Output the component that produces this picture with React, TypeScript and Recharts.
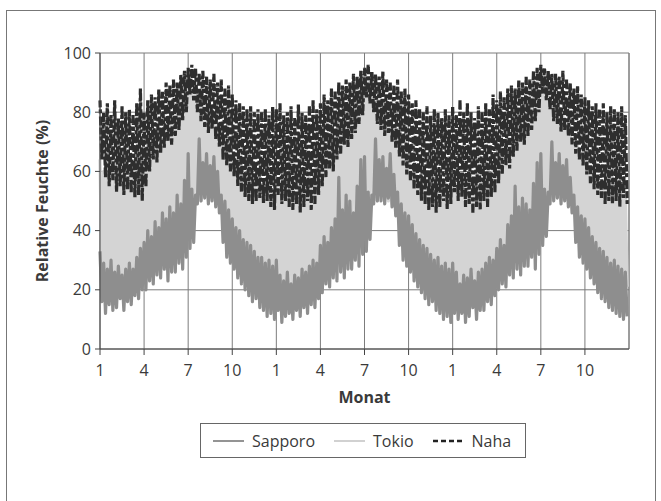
import React from "react";
import {
  LineChart,
  Line,
  XAxis,
  YAxis,
  CartesianGrid,
  Legend,
  ReferenceLine,
} from "recharts";

// Three years of relative humidity, sampled weekly (4 per month, 144 per series).
// Each week holds the upper and lower value of the daily swing.
const MONTH_TICKS = [0, 3, 6, 9, 12, 15, 18, 21, 24, 27, 30, 33];
const MONTH_LABELS = ["1", "4", "7", "10", "1", "4", "7", "10", "1", "4", "7", "10"];
const Y_TICKS = [0, 20, 40, 60, 80, 100];

const SAPPORO_HIGH = [
  33, 29, 27, 30, 26, 28, 25, 27, 29, 27, 31, 34, 36, 40, 38, 43, 41, 46, 44, 48, 46, 52, 49, 57,
  66, 54, 52, 71, 63, 66, 62, 65, 60, 52, 50, 47, 44, 41, 40, 37, 36, 35, 33, 31, 31, 29, 30, 28,
  30, 25, 23, 26, 22, 25, 24, 27, 26, 28, 30, 29, 35, 38, 36, 41, 44, 58, 47, 52, 50, 46, 55, 64,
  65, 53, 52, 71, 64, 65, 61, 66, 59, 53, 49, 46, 45, 42, 39, 37, 35, 34, 32, 30, 31, 28, 29, 27,
  29, 26, 22, 25, 24, 27, 23, 26, 27, 29, 31, 30, 34, 37, 35, 42, 45, 55, 48, 51, 49, 47, 56, 63,
  66, 54, 53, 70, 63, 66, 62, 64, 58, 52, 48, 45, 44, 41, 38, 36, 34, 33, 31, 29, 30, 28, 27, 26,
];
const SAPPORO_LOW = [
  16, 12, 15, 13, 14, 17, 13, 16, 15, 18, 17, 20, 20, 23, 22, 25, 24, 27, 23, 26, 26, 29, 27, 31,
  34, 36, 49, 50, 51, 49, 50, 48, 46, 36, 31, 29, 27, 24, 22, 20, 18, 16, 17, 14, 13, 11, 12, 10,
  13, 9, 11, 12, 10, 13, 11, 14, 12, 15, 14, 17, 19, 22, 21, 24, 23, 26, 24, 27, 27, 30, 28, 32,
  33, 37, 49, 50, 50, 49, 51, 48, 45, 35, 30, 28, 26, 23, 21, 19, 17, 15, 16, 13, 12, 10, 11, 9,
  12, 10, 12, 9, 11, 14, 10, 13, 13, 16, 15, 18, 20, 22, 21, 25, 24, 27, 25, 28, 28, 31, 27, 32,
  35, 38, 49, 50, 51, 49, 50, 48, 46, 36, 31, 29, 27, 24, 22, 19, 17, 16, 14, 13, 12, 11, 10, 11,
];

const TOKIO_HIGH = [
  64, 60, 62, 59, 58, 61, 57, 59, 60, 62, 58, 66, 64, 70, 66, 72, 70, 74, 72, 78, 80, 84, 88, 91,
  92, 90, 88, 86, 85, 82, 80, 78, 76, 72, 70, 66, 66, 63, 62, 60, 58, 57, 56, 55, 55, 54, 56, 53,
  56, 55, 57, 54, 55, 53, 56, 54, 57, 60, 58, 64, 66, 71, 68, 73, 72, 76, 74, 79, 82, 86, 89, 91,
  92, 90, 88, 85, 84, 82, 79, 77, 75, 72, 69, 66, 64, 62, 60, 58, 57, 55, 56, 54, 55, 53, 56, 54,
  56, 54, 57, 55, 55, 53, 56, 54, 56, 59, 57, 63, 65, 70, 67, 72, 71, 75, 73, 78, 81, 85, 88, 91,
  92, 91, 88, 86, 84, 81, 80, 77, 75, 71, 69, 66, 64, 61, 60, 58, 57, 55, 56, 54, 55, 54, 56, 53,
];
const TOKIO_LOW = [
  25, 23, 22, 24, 21, 23, 20, 22, 24, 22, 26, 28, 31, 35, 33, 38, 38, 42, 40, 45, 43, 48, 46, 50,
  46, 48, 51, 50, 52, 50, 51, 49, 50, 42, 40, 38, 37, 35, 34, 31, 30, 29, 27, 26, 25, 24, 25, 23,
  25, 21, 20, 22, 19, 22, 21, 23, 22, 24, 26, 25, 31, 34, 32, 37, 40, 44, 43, 47, 45, 43, 50, 52,
  50, 49, 51, 50, 52, 51, 50, 49, 50, 44, 41, 39, 38, 36, 33, 31, 30, 28, 27, 25, 25, 23, 24, 22,
  24, 22, 19, 21, 20, 23, 19, 22, 23, 25, 27, 26, 30, 33, 31, 38, 41, 45, 44, 46, 45, 44, 50, 52,
  51, 49, 50, 51, 52, 50, 51, 49, 50, 43, 40, 38, 37, 35, 32, 30, 29, 28, 26, 24, 24, 23, 22, 21,
];

const NAHA_HIGH = [
  84, 80, 83, 79, 84, 78, 82, 80, 81, 79, 83, 88, 80, 84, 86, 85, 88, 87, 90, 89, 91, 90, 93, 94,
  95, 96, 95, 93, 94, 92, 91, 93, 90, 91, 88, 89, 86, 84, 83, 82, 81, 82, 80, 81, 80, 81, 79, 82,
  81, 83, 79, 80, 82, 78, 83, 80, 79, 82, 84, 81, 83, 86, 84, 88, 87, 90, 89, 91, 90, 93, 92, 94,
  95, 96, 94, 93, 92, 94, 91, 90, 89, 91, 87, 88, 86, 83, 84, 81, 80, 82, 79, 81, 80, 78, 81, 79,
  82, 79, 84, 80, 83, 80, 78, 82, 80, 83, 81, 86, 84, 87, 85, 88, 89, 88, 91, 90, 92, 91, 94, 95,
  96, 95, 94, 93, 93, 92, 94, 91, 90, 88, 89, 86, 85, 84, 82, 83, 81, 83, 80, 82, 81, 80, 82, 79,
];
const NAHA_LOW = [
  64, 58, 55, 57, 53, 55, 52, 54, 53, 51, 52, 50, 55, 60, 64, 63, 66, 68, 70, 69, 72, 74, 77, 80,
  86, 84, 80, 77, 75, 73, 74, 71, 68, 64, 62, 60, 58, 55, 53, 51, 50, 49, 50, 51, 49, 50, 48, 47,
  52, 49, 50, 48, 47, 49, 46, 48, 50, 47, 49, 52, 55, 58, 61, 60, 64, 66, 69, 68, 71, 73, 76, 79,
  85, 83, 80, 76, 74, 72, 73, 70, 68, 65, 62, 59, 57, 54, 52, 50, 49, 47, 48, 46, 48, 50, 47, 49,
  53, 50, 51, 48, 49, 46, 48, 47, 50, 48, 51, 53, 56, 59, 62, 61, 65, 67, 70, 69, 72, 74, 77, 80,
  86, 84, 81, 77, 76, 73, 74, 72, 69, 66, 64, 62, 59, 56, 54, 52, 51, 49, 50, 49, 50, 48, 51, 49,
];

const WEEK = 0.25; // in months

const SAPPORO_COLOR = "#8e8e8e";
const TOKIO_COLOR = "#d4d4d4";
const NAHA_COLOR = "#2e2e2e";
const TEXT_COLOR = "#3a3a3a";
const FONT = "'Open Sans', 'Noto Sans', sans-serif";

// upper value at the start of each week, lower value half a week later
const rows = SAPPORO_HIGH.flatMap((_, i) => [
  { t: i * WEEK, sapporo: SAPPORO_HIGH[i], tokio: TOKIO_HIGH[i], naha: NAHA_HIGH[i] },
  { t: i * WEEK + WEEK / 2, sapporo: SAPPORO_LOW[i], tokio: TOKIO_LOW[i], naha: NAHA_LOW[i] },
]);

const LEGEND_ITEMS = [
  { name: "Sapporo", color: "#5a5a5a", width: 1.3, dash: undefined },
  { name: "Tokio", color: "#b8b8b8", width: 1.3, dash: undefined },
  { name: "Naha", color: "#222", width: 2.6, dash: "5 3" },
];

function LegendBox() {
  return (
    <div
      style={{
        display: "flex",
        alignItems: "center",
        height: 35,
        boxSizing: "border-box",
        border: "1px solid #666",
        paddingLeft: 12,
        fontSize: 16,
        color: TEXT_COLOR,
        fontFamily: FONT,
      }}
    >
      {LEGEND_ITEMS.map((item) => (
        <span key={item.name} style={{ display: "flex", alignItems: "center", marginRight: 19 }}>
          <svg width={31} height={6}>
            <line
              x1={0}
              x2={31}
              y1={3}
              y2={3}
              stroke={item.color}
              strokeWidth={item.width}
              strokeDasharray={item.dash}
            />
          </svg>
          <span style={{ marginLeft: 8 }}>{item.name}</span>
        </span>
      ))}
    </div>
  );
}

export default function App() {
  return (
    <div
      style={{
        position: "absolute",
        left: 0,
        top: 0,
        width: 661,
        height: 501,
        background: "#fff",
        overflow: "hidden",
        fontFamily: FONT,
      }}
    >
      <div
        style={{
          position: "absolute",
          left: 6,
          top: 10,
          width: 648,
          height: 500,
          border: "1.5px solid #777",
        }}
      />
      <div style={{ position: "absolute", left: 0, top: 0 }}>
        <LineChart
          width={661}
          height={501}
          data={rows}
          margin={{ top: 53, right: 32, left: 0, bottom: 92 }}
        >
          <CartesianGrid stroke="#7c7c7c" strokeWidth={1} />
          <XAxis
            dataKey="t"
            type="number"
            domain={[0, 36]}
            ticks={MONTH_TICKS}
            interval={0}
            tickFormatter={(_v: number, i: number) => MONTH_LABELS[i]}
            height={60}
            tickSize={6}
            tickMargin={10}
            stroke="#444"
            tick={{ fontSize: 16, fill: TEXT_COLOR }}
            label={{
              value: "Monat",
              position: "insideBottom",
              offset: 6,
              style: { fontSize: 16, fontWeight: 700, fill: TEXT_COLOR },
            }}
          />
          <YAxis
            type="number"
            domain={[0, 100]}
            ticks={Y_TICKS}
            interval={0}
            width={100}
            tickSize={5}
            tickMargin={4}
            stroke="#444"
            tick={{ fontSize: 16, fill: TEXT_COLOR }}
            label={{
              value: "Relative Feuchte (%)",
              angle: -90,
              position: "insideLeft",
              offset: 42,
              style: { textAnchor: "middle", fontSize: 16, fontWeight: 700, fill: TEXT_COLOR },
            }}
          />
          <ReferenceLine x={36} stroke="#7c7c7c" />
          <Line
            dataKey="tokio"
            name="Tokio"
            stroke={TOKIO_COLOR}
            strokeWidth={3.2}
            strokeLinejoin="round"
            dot={false}
            isAnimationActive={false}
          />
          <Line
            dataKey="sapporo"
            name="Sapporo"
            stroke={SAPPORO_COLOR}
            strokeWidth={3.2}
            strokeLinejoin="round"
            dot={false}
            isAnimationActive={false}
          />
          <Line
            dataKey="naha"
            name="Naha"
            stroke={NAHA_COLOR}
            strokeWidth={3.2}
            strokeDasharray="7 2 4 3 9 2"
            dot={false}
            isAnimationActive={false}
          />
          <Legend
            layout="horizontal"
            verticalAlign="middle"
            align="center"
            content={<LegendBox />}
            wrapperStyle={{ top: 423, left: 200, width: 326, height: 35 }}
          />
        </LineChart>
      </div>
    </div>
  );
}
